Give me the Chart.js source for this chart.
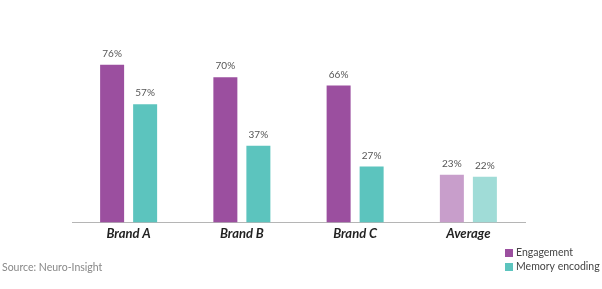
<!DOCTYPE html>
<html><head><meta charset="utf-8">
<script src="https://cdn.jsdelivr.net/npm/chart.js@4/dist/chart.umd.min.js"></script>
<style>
html,body{margin:0;padding:0;background:#fff;}
#wrap{position:relative;width:602px;height:289px;}
#source{position:absolute;left:2px;top:261px;font:10.5px Lato,sans-serif;color:#888;}
</style></head>
<body><div id="wrap"><canvas id="c" width="602" height="289"></canvas><div id="source">Source: Neuro-Insight</div></div>
<script>
const categories = ['Brand A','Brand B','Brand C','Average'];
const engagement = [76, 70, 66, 23];
const memoryEncoding = [57, 37, 27, 22];
const engagementColors = ['#9b4f9f','#9b4f9f','#9b4f9f','#c89ecb'];
const memoryColors = ['#5cc4be','#5cc4be','#5cc4be','#a0dcd7'];

const valueLabels = {
  id:'valueLabels',
  afterDatasetsDraw(chart){
    const ctx = chart.ctx;
    ctx.save();
    ctx.font = '10px Lato, sans-serif';
    ctx.fillStyle = '#555';
    ctx.textAlign = 'center';
    ctx.textBaseline = 'bottom';
    chart.data.datasets.forEach((ds,i)=>{
      chart.getDatasetMeta(i).data.forEach((el,j)=>{
        ctx.fillText(ds.data[j]+'%', el.x, el.y - 6);
      });
    });
    ctx.restore();
  }
};
const customLegend = {
  id:'customLegend',
  afterDraw(chart){
    const ctx = chart.ctx;
    ctx.save();
    ctx.font = '10.5px Lato, sans-serif';
    ctx.textBaseline = 'middle';
    ctx.textAlign = 'left';
    const ys = [253, 267];
    const cols = ['#9b4f9f','#5cc4be'];
    chart.data.datasets.forEach((ds,i)=>{
      ctx.fillStyle = cols[i];
      ctx.fillRect(505, ys[i]-4, 8, 8);
      ctx.fillStyle = '#444';
      ctx.fillText(ds.label, 516, ys[i]);
    });
    ctx.restore();
  }
};

new Chart(document.getElementById('c'), {
  type:'bar',
  data:{
    labels: categories,
    datasets:[
      {label:'Engagement', data: engagement, backgroundColor: engagementColors},
      {label:'Memory encoding', data: memoryEncoding, backgroundColor: memoryColors}
    ]
  },
  options:{
    responsive:false,
    animation:false,
    layout:{padding:{left:72,right:77,top:15,bottom:43}},
    plugins:{legend:{display:false},tooltip:{enabled:false}},
    datasets:{bar:{categoryPercentage:0.583,barPercentage:0.727}},
    scales:{
      x:{
        grid:{display:false,drawTicks:false},
        border:{display:true,color:'#b5b5b5',width:1},
        ticks:{padding:4,color:'#222',font:{family:'Lato, sans-serif',size:13,weight:'bold',style:'italic'}}
      },
      y:{display:false,min:0,max:100}
    }
  },
  plugins:[valueLabels, customLegend]
});
</script>
</body></html>
